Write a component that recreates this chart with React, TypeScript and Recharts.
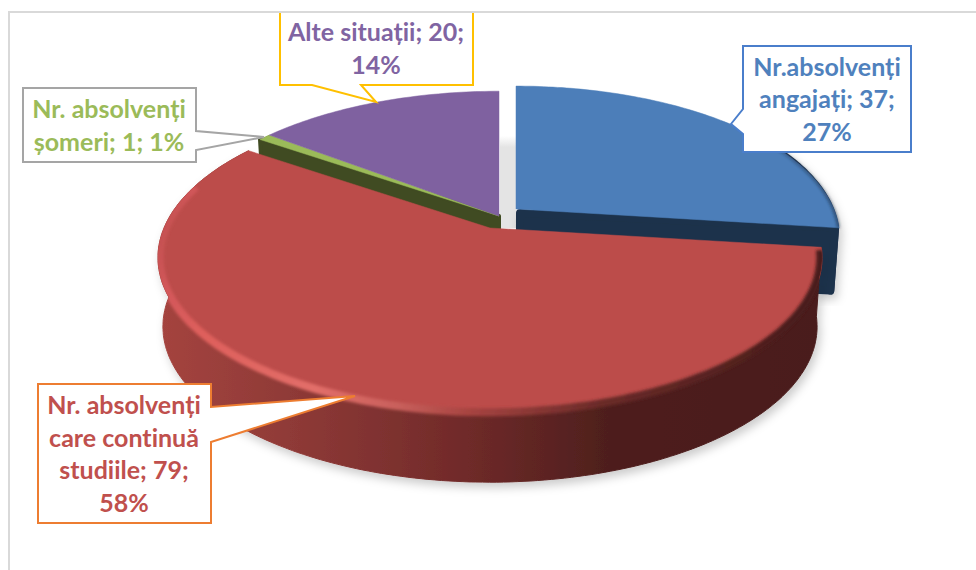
import React from 'react';
import { PieChart, Pie } from 'recharts';

const sliceNames = ['Nr.absolvenți angajați', 'Nr. absolvenți care continuă studiile', 'Nr. absolvenți șomeri', 'Alte situații'];
const sliceValues = [37, 79, 1, 20];
const slicePercents = [27, 58, 1, 14];
const labelLines = [
  ['Nr.absolvenți', 'angajați; 37;', `${slicePercents[0]}%`],
  ['Nr. absolvenți', 'care continuă', 'studiile; 79;', `${slicePercents[1]}%`],
  ['Nr. absolvenți', `șomeri; 1; ${slicePercents[2]}%`],
  ['Alte situații; 20;', `${slicePercents[3]}%`],
];

const topColors = ['#4c7eb9', '#bc4c4a', '#9bbb59', '#7f61a0'];
const wallColors = ['#1e314b', 'url(#red-wall)', '#404b22', '#4a3a60'];
const textColors = ['#4f81bd', '#c0504d', '#9bbb59', '#8064a2'];
const boxColors = ['#4a7ecb', '#ed7d31', '#a5a5a5', '#ffc000'];

// each slice is pulled out of the pie a bit differently
const apexes = [[516, 209], [490, 228], [499, 216], [499, 216]];
const scales = [0.975, 1, 0.99, 0.99];
const depths = [63, 69, 60, 0];
const cutEdges = ['end', 'none', 'start', 'none'];
// blue wall is inset and drawn with a fat round stroke to get its soft corner
const wallInsets = [4, 0, 0, 0];
// only the front part of the blue rim can be seen
const wallArcTrim = [60, 0, 0, 0];

const boxes = [
  { x0: 743, x1: 911, y0: 46, y1: 152, side: 'left', p0: 109, p1: 134, tip: [731, 124], cx: 827, base: [76, 108, 141] },
  { x0: 38, x1: 211, y0: 384, y1: 523, side: 'right', p0: 407, p1: 442, tip: [355, 396], cx: 124, base: [414, 447, 479, 512] },
  { x0: 23, x1: 196, y0: 88, y1: 162, side: 'right', p0: 131, p1: 150, tip: [264, 137], cx: 109, base: [118, 151] },
  { x0: 280, x1: 473, y0: 13, y1: 85, side: 'bottom', p0: 312, p1: 361, tip: [376, 102], cx: 376, base: [41, 74] },
];

const pieData = sliceNames.map((name, i) => ({ name, value: sliceValues[i] }));

const TILT = 150 / 326;
const PERSPECTIVE = 0.19;
const BOTTOM_SHRINK = 0.985;

type Pt = [number, number];

// ground plane angle -> screen point, keeps the far side of the pie smaller
function project(deg: number, r: number, i: number): Pt {
  const a = (deg * Math.PI) / 180;
  const w = 1 + PERSPECTIVE * Math.sin(a);
  const [ax, ay] = apexes[i];
  return [ax + (r * scales[i] * Math.cos(a)) / w, ay - (r * scales[i] * TILT * Math.sin(a)) / w];
}

function arcPoints(from: number, to: number, r: number, i: number): Pt[] {
  const n = Math.max(2, Math.ceil(Math.abs(to - from)));
  return Array.from({ length: n + 1 }, (_, k) => project(from + ((to - from) * k) / n, r, i));
}

function lower(p: Pt, i: number): Pt {
  const ax = apexes[i][0];
  return [ax + (p[0] - ax) * BOTTOM_SHRINK, p[1] + depths[i]];
}

const toPath = (pts: Pt[], close = true) =>
  pts.map((p, k) => `${k ? 'L' : 'M'}${p[0].toFixed(1)} ${p[1].toFixed(1)}`).join(' ') + (close ? ' Z' : '');

function WallShape(props: any) {
  const { index, startAngle, endAngle, outerRadius } = props;
  if (!depths[index]) return <g />;
  const inset = wallInsets[index];
  const arc = arcPoints(startAngle - wallArcTrim[index], endAngle, outerRadius - inset, index);
  const apex: Pt = [apexes[index][0] + inset, apexes[index][1] + inset];
  const outer = [...arc, ...arc.map((p) => lower(p, index)).reverse()];
  const cutEnd = cutEdges[index] === 'end' ? arc[arc.length - 1] : arc[0];
  const cut = cutEdges[index] === 'none' ? null : [apex, cutEnd, lower(cutEnd, index), lower(apex, index)];
  const shadow = index === 2 ? undefined : 'url(#soft-shadow)';
  const strokeWidth = inset ? inset * 2 : index === 2 ? 0 : 1;
  return (
    <g>
      {index === 0 && <rect x={500} y={136} width={16} height={92} fill="url(#gap-shadow)" />}
      <g filter={shadow}>
        <path d={toPath(outer)} fill={wallColors[index]} stroke={wallColors[index]} strokeWidth={strokeWidth} strokeLinejoin="round" />
        {cut && (
          <path d={toPath(cut)} fill={wallColors[index]} stroke={wallColors[index]} strokeWidth={inset ? inset * 2 : 4} strokeLinejoin="round" />
        )}
      </g>
    </g>
  );
}

function TopShape(props: any) {
  const { index, startAngle, endAngle, outerRadius } = props;
  const arc = arcPoints(startAngle, endAngle, outerRadius, index);
  const top = toPath([apexes[index] as Pt, ...arc]);
  const wall = toPath([...arc, ...arc.map((p) => lower(p, index)).reverse()]);
  return (
    <g>
      <path d={top} fill={topColors[index]} stroke={topColors[index]} strokeWidth={0.5} />
      {index === 1 && (
        <>
          {/* keeps the blurred rim inside the pie's outline */}
          <clipPath id="red-outline">
            <path d={top} />
            <path d={wall} />
          </clipPath>
          <g clipPath="url(#red-outline)">
            <path
              d={toPath(arcPoints(startAngle - 1, endAngle + 18, outerRadius * 0.995, index), false)}
              fill="none"
              stroke="url(#red-rim)"
              strokeWidth={8}
              filter="url(#rim-blur)"
            />
          </g>
        </>
      )}
      {index === 0 && (
        <path
          d={toPath(arcPoints(startAngle - 55, endAngle, outerRadius * 0.998, index), false)}
          fill="none"
          stroke="url(#blue-rim)"
          strokeWidth={2}
          filter="url(#rim-blur)"
        />
      )}
    </g>
  );
}

function Callout(props: any) {
  const { index } = props;
  const b = boxes[index];
  let d = '';
  if (b.side === 'left') {
    d = `M${b.x0} ${b.y0} H${b.x1} V${b.y1} H${b.x0} V${b.p1} L${b.tip[0]} ${b.tip[1]} L${b.x0} ${b.p0} Z`;
  } else if (b.side === 'right') {
    d = `M${b.x0} ${b.y0} H${b.x1} V${b.p0} L${b.tip[0]} ${b.tip[1]} L${b.x1} ${b.p1} V${b.y1} H${b.x0} Z`;
  } else {
    // the top of this box is cut by the chart frame, so no closing line
    d = `M${b.x0} ${b.y0} V${b.y1} H${b.p0} L${b.tip[0]} ${b.tip[1]} L${b.p1} ${b.y1} H${b.x1} V${b.y0}`;
  }
  return (
    <g>
      <path d={d} fill="#ffffff" stroke={boxColors[index]} strokeWidth={2} />
      {labelLines[index].map((line, k) => (
        <text
          key={line}
          x={b.cx}
          y={b.base[k]}
          textAnchor="middle"
          fontFamily="Lato, sans-serif"
          fontWeight={700}
          fontSize={25}
          fill={textColors[index]}
          style={{ fontVariantLigatures: 'none' }}
        >
          {line}
        </text>
      ))}
    </g>
  );
}

export default function App() {
  return (
    <div style={{ position: 'absolute', left: 0, top: 0, width: 976, height: 570, background: '#fff' }}>
      <div
        style={{
          position: 'absolute',
          left: 8,
          top: 11,
          width: 968,
          height: 559,
          borderLeft: '2px solid #d9d9d9',
          borderTop: '2px solid #d9d9d9',
          boxSizing: 'border-box',
        }}
      />
      <div style={{ position: 'absolute', left: 0, top: 0 }}>
        <PieChart width={976} height={570} margin={{ top: 0, right: 0, bottom: 0, left: 0 }}>
          <defs>
            <linearGradient id="red-wall" gradientUnits="userSpaceOnUse" x1="157" y1="0" x2="820" y2="0">
              <stop offset="0" stopColor="#a5443f" />
              <stop offset="0.2" stopColor="#8f3a37" />
              <stop offset="0.45" stopColor="#722b2a" />
              <stop offset="0.68" stopColor="#4e1f1d" />
              <stop offset="1" stopColor="#4a1d1b" />
            </linearGradient>
            <linearGradient id="red-rim" gradientUnits="userSpaceOnUse" x1="160" y1="190" x2="820" y2="400">
              <stop offset="0" stopColor="#bc4c4a" />
              <stop offset="0.05" stopColor="#d2575a" />
              <stop offset="0.12" stopColor="#de5f5b" />
              <stop offset="0.3" stopColor="#e26e69" />
              <stop offset="0.42" stopColor="#c9605c" />
              <stop offset="0.52" stopColor="#a84441" />
              <stop offset="0.7" stopColor="#6a2a28" />
              <stop offset="0.93" stopColor="#4a1d1b" />
            </linearGradient>
            <linearGradient id="blue-rim" gradientUnits="userSpaceOnUse" x1="720" y1="0" x2="840" y2="0">
              <stop offset="0" stopColor="#1e314b" stopOpacity="0.1" />
              <stop offset="1" stopColor="#1e314b" stopOpacity="0.9" />
            </linearGradient>
            <linearGradient id="gap-shadow" x1="0" y1="0" x2="0" y2="1">
              <stop offset="0" stopColor="#ffffff" />
              <stop offset="0.12" stopColor="#e4e4e4" />
              <stop offset="1" stopColor="#e4e4e4" />
            </linearGradient>
            <filter id="rim-blur" x="-5%" y="-5%" width="110%" height="110%">
              <feGaussianBlur stdDeviation="1.6" />
            </filter>
            <filter id="soft-shadow" x="-5%" y="-5%" width="110%" height="115%">
              <feDropShadow dx="3" dy="5" stdDeviation="5" floodColor="#000000" floodOpacity="0.2" />
            </filter>
          </defs>
          <Pie
            data={pieData}
            dataKey="value"
            nameKey="name"
            cx={490}
            cy={228}
            outerRadius={326}
            startAngle={90}
            endAngle={-270}
            stroke="none"
            label={false}
            labelLine={false}
            shape={WallShape}
            isAnimationActive={false}
          />
          <Pie
            data={pieData}
            dataKey="value"
            nameKey="name"
            cx={490}
            cy={228}
            outerRadius={326}
            startAngle={90}
            endAngle={-270}
            stroke="none"
            label={Callout}
            labelLine={false}
            shape={TopShape}
            isAnimationActive={false}
          />
        </PieChart>
      </div>
    </div>
  );
}
